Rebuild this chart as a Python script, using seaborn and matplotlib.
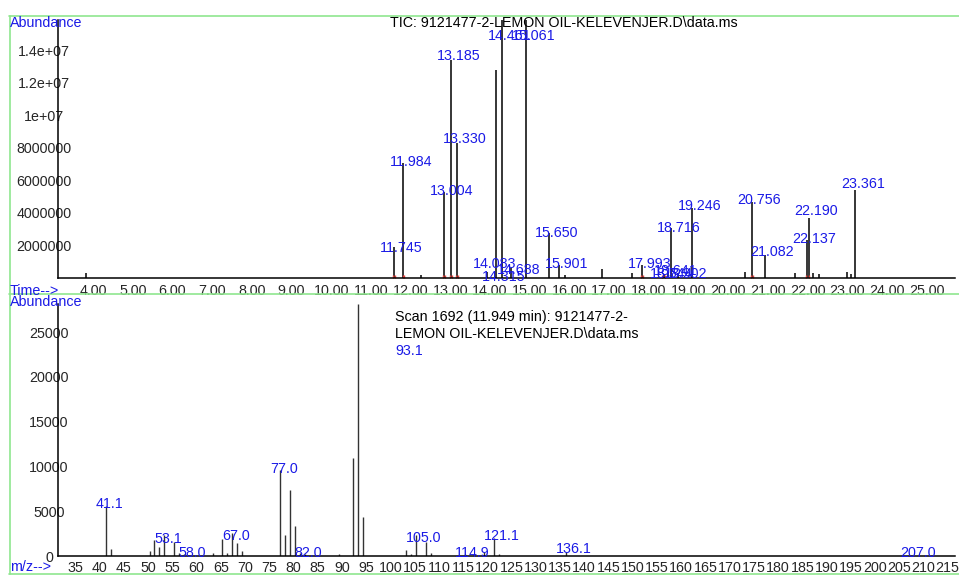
"""
GC-MS report page: TIC chromatogram (top) and mass spectrum of scan 1692 (bottom).
"""

import numpy as np
import matplotlib
matplotlib.use("Agg")
import matplotlib.pyplot as plt
import matplotlib.ticker as mtick
import matplotlib.transforms as mtrans
from matplotlib.lines import Line2D
import seaborn as sns

# ── TIC chromatogram data ───────────────────────────────────────────────────
tic_times = [3.99, 11.745, 11.984, 12.43, 13.004, 13.185, 13.330, 14.083,
             14.315, 14.461, 14.688, 15.061, 15.650, 15.901, 16.05, 16.99,
             17.74, 17.993, 18.544, 18.641, 18.716, 18.902, 19.246, 20.59,
             20.756, 21.082, 21.85, 22.137, 22.190, 22.30, 22.45, 23.16,
             23.25, 23.361]
tic_heights = [0.25e6, 1.9e6, 7.05e6, 0.15e6, 5.26e6, 1.34e7, 8.28e6, 0.35e6,
               1.28e7, 1.59e7, 0.6e6, 1.59e7, 2.74e6, 0.77e6, 0.15e6, 0.52e6,
               0.3e6, 0.77e6, 0.2e6, 0.35e6, 3.05e6, 0.25e6, 4.28e6, 0.34e6,
               4.65e6, 1.38e6, 0.3e6, 2.3e6, 3.66e6, 0.3e6, 0.2e6, 0.35e6,
               0.2e6, 5.38e6]
tic_labels = ["11.745", "11.984", "13.004", "13.185", "13.330", "14.083",
              "14.315", "14.461", "14.688", "15.061", "15.650", "15.901",
              "17.993", "18.544", "18.641", "18.716", "18.902", "19.246",
              "20.756", "21.082", "22.137", "22.190", "23.361"]
tic_label_y = [1.57e6, 6.86e6, 5.08e6, 1.34e7, 8.3e6, 0.58e6,
               -0.2e6, 1.46e7, 0.2e6, 1.46e7, 2.49e6, 0.58e6,
               0.58e6, 0.0, 0.15e6, 2.8e6, 0.0, 4.15e6,
               4.52e6, 1.32e6, 2.12e6, 3.85e6, 5.5e6]
integration_marks = [11.72, 11.77, 11.96, 12.01, 12.98, 13.03, 13.16, 13.21,
                     13.31, 13.36, 17.97, 18.02, 18.50, 18.56, 20.73, 20.78,
                     22.12, 22.21]
time_ticks = list(range(4, 26))
tic_yticks = [2e6, 4e6, 6e6, 8e6, 1e7, 1.2e7, 1.4e7]
tic_yticklabels = ["2000000", "4000000", "6000000", "8000000",
                   "1e+07", "1.2e+07", "1.4e+07"]

# ── mass spectrum data (scan 1692) ──────────────────────────────────────────
ms_mz = [41, 42, 50, 51, 52, 53, 55, 56, 57, 58, 63, 65, 66, 67, 68, 69,
         77, 78, 79, 80, 81, 82, 89, 92, 93, 94, 103, 104, 105, 107, 108,
         115, 117, 119, 121, 122, 136, 207]
ms_abund = [5600, 780, 600, 1800, 1000, 2400, 1600, 350, 200, 150, 350, 1900,
            300, 2600, 1450, 550, 9600, 2350, 7350, 3350, 300, 200, 250,
            10900, 28200, 4350, 700, 250, 2350, 1600, 350, 200, 200, 400,
            2000, 250, 400, 150]
ms_labels = ["41.1", "53.1", "58.0", "67.0", "77.0", "82.0", "105.0",
             "114.9", "121.1", "136.1", "207.0"]
ms_label_y = [5360, 1450, -100, 1790, 9270, -100, 1560, -100, 1790, 335, -100]
mz_ticks = list(range(35, 216, 5))
ms_yticks = [0, 5000, 10000, 15000, 20000, 25000]

BLUE = "#1a1ae6"
GREEN = "#8fe68f"
W, H = 959, 575
FS = 10.3

sns.set_theme(style="white")
plt.rcParams["font.family"] = ["Liberation Sans", "DejaVu Sans"]
plt.rcParams["font.size"] = FS

fig = plt.figure(figsize=(W / 100, H / 100), dpi=100)
ax1 = fig.add_axes([58 / W, 1 - 277.5 / H, (955 - 58) / W, (277.5 - 20) / H])
ax2 = fig.add_axes([58 / W, 1 - 556 / H, (955 - 58) / W, (556 - 303.5) / H])

for ax in (ax1, ax2):
    sns.despine(ax=ax)
    ax.set_facecolor("white")
    for side in ("left", "bottom"):
        ax.spines[side].set_color("black")
        ax.spines[side].set_linewidth(1.1)
    ax.tick_params(axis="x", which="major", direction="out", length=3.6,
                   width=0.9, color="black", pad=1.0, labelsize=FS)
    ax.tick_params(axis="x", which="minor", direction="out", length=2.2,
                   width=0.8, color="black")
    ax.tick_params(axis="y", length=0, labelsize=FS)
    ax.grid(False)

# ── 1. TIC ──────────────────────────────────────────────────────────────────
ax1.vlines(tic_times, 0, tic_heights, color="black", lw=1.1)
ax1.vlines(integration_marks, -0.6e5, 1.6e5, color="#e8403a", lw=1.0,
           clip_on=False)
for lab, ly in zip(tic_labels, tic_label_y):
    ax1.annotate(lab, xy=(float(lab), ly), xytext=(-14, 0),
                 textcoords="offset pixels", ha="left", va="baseline",
                 color=BLUE, fontsize=FS, annotation_clip=False)
ax1.set_xlim(3.282, 25.877)
ax1.set_ylim(0, 1.585e7)
ax1.set_xticks(time_ticks, [f"{t:.2f}" for t in time_ticks])
ax1.xaxis.set_minor_locator(mtick.AutoMinorLocator(6))
ax1.set_yticks(tic_yticks, tic_yticklabels, ha="center")
ax1.tick_params(axis="y", pad=10)
shift = mtrans.ScaledTranslation(6.5 / 100, 0, fig.dpi_scale_trans)
for lbl in ax1.get_xticklabels():
    lbl.set_transform(lbl.get_transform() + shift)

# ── 2. mass spectrum ────────────────────────────────────────────────────────
ax2.vlines(ms_mz, 0, ms_abund, color="#333333", lw=1.0)
for lab, ly in zip(ms_labels, ms_label_y):
    ax2.annotate(lab, xy=(round(float(lab)), ly), xytext=(-10, 0),
                 textcoords="offset pixels", ha="left", va="baseline",
                 color=BLUE, fontsize=FS, annotation_clip=False)
ax2.set_xlim(31.1, 216.2)
ax2.set_ylim(0, 28200)
ax2.set_xticks(mz_ticks, [str(m) for m in mz_ticks])
ax2.xaxis.set_minor_locator(mtick.MultipleLocator(1))
ax2.tick_params(axis="x", which="major", pad=0.0)
ax2.set_yticks(ms_yticks, [str(v) for v in ms_yticks], ha="center")
ax2.tick_params(axis="y", pad=6.5)
nudge = mtrans.ScaledTranslation(-1.5 / 100, 0, fig.dpi_scale_trans)
for lbl in ax2.get_xticklabels():
    lbl.set_transform(lbl.get_transform() + nudge)

# ── header texts and frames ────────────────────────────────────────────────
def ftext(x, y, s, color="black"):
    fig.text(x / W, 1 - y / H, s, ha="left", va="center", color=color,
             fontsize=FS)

ftext(10, 23, "Abundance", BLUE)
ftext(390, 23, "TIC: 9121477-2-LEMON OIL-KELEVENJER.D\\data.ms")
ftext(10, 291, "Time-->", BLUE)
ftext(10, 302, "Abundance", BLUE)
ftext(395, 317, "Scan 1692 (11.949 min): 9121477-2-")
ftext(395, 334, "LEMON OIL-KELEVENJER.D\\data.ms")
ftext(395, 351, "93.1", BLUE)
ftext(10, 567, "m/z-->", BLUE)

for (x0, y0, x1, y1) in [(9, 15.5, 959, 15.5), (9.5, 15.5, 9.5, 573.5),
                         (9, 293.5, 959, 293.5), (9, 573.5, 959, 573.5)]:
    fig.add_artist(Line2D([x0 / W, x1 / W], [1 - y0 / H, 1 - y1 / H],
                          color=GREEN, lw=1.2))

fig.savefig("out.png", dpi=100)
